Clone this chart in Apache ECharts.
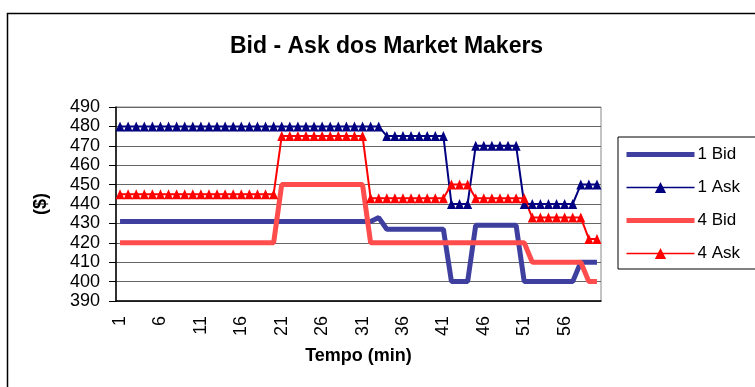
<!DOCTYPE html>
<html>
<head>
<meta charset="utf-8">
<script src="https://cdn.jsdelivr.net/npm/echarts@6/dist/echarts.min.js"></script>
<style>
  html, body { margin: 0; padding: 0; background: #fff; }
  #chart { width: 755px; height: 387px; }
</style>
</head>
<body>
<div id="chart"></div>
<script>
// minutes on the x axis
const minutes = [
  1, 2, 3, 4, 5, 6, 7, 8, 9, 10,
  11, 12, 13, 14, 15, 16, 17, 18, 19, 20,
  21, 22, 23, 24, 25, 26, 27, 28, 29, 30,
  31, 32, 33, 34, 35, 36, 37, 38, 39, 40,
  41, 42, 43, 44, 45, 46, 47, 48, 49, 50,
  51, 52, 53, 54, 55, 56, 57, 58, 59, 60
];

const bid1 = [
  431, 431, 431, 431, 431, 431, 431, 431, 431, 431,
  431, 431, 431, 431, 431, 431, 431, 431, 431, 431,
  431, 431, 431, 431, 431, 431, 431, 431, 431, 431,
  431, 431, 433, 427, 427, 427, 427, 427, 427, 427,
  427, 400, 400, 400, 429, 429, 429, 429, 429, 429,
  400, 400, 400, 400, 400, 400, 400, 410, 410, 410
];

const ask1 = [
  480, 480, 480, 480, 480, 480, 480, 480, 480, 480,
  480, 480, 480, 480, 480, 480, 480, 480, 480, 480,
  480, 480, 480, 480, 480, 480, 480, 480, 480, 480,
  480, 480, 480, 475, 475, 475, 475, 475, 475, 475,
  475, 440, 440, 440, 470, 470, 470, 470, 470, 470,
  440, 440, 440, 440, 440, 440, 440, 450, 450, 450
];

const bid4 = [
  420, 420, 420, 420, 420, 420, 420, 420, 420, 420,
  420, 420, 420, 420, 420, 420, 420, 420, 420, 420,
  450, 450, 450, 450, 450, 450, 450, 450, 450, 450,
  450, 420, 420, 420, 420, 420, 420, 420, 420, 420,
  420, 420, 420, 420, 420, 420, 420, 420, 420, 420,
  420, 410, 410, 410, 410, 410, 410, 410, 400, 400
];

const ask4 = [
  445, 445, 445, 445, 445, 445, 445, 445, 445, 445,
  445, 445, 445, 445, 445, 445, 445, 445, 445, 445,
  475, 475, 475, 475, 475, 475, 475, 475, 475, 475,
  475, 443, 443, 443, 443, 443, 443, 443, 443, 443,
  443, 450, 450, 450, 443, 443, 443, 443, 443, 443,
  443, 433, 433, 433, 433, 433, 433, 433, 422, 422
];

const font = 'Liberation Sans, Arial, sans-serif';
const chart = echarts.init(document.getElementById('chart'));

chart.setOption({
  animation: false,
  textStyle: { fontFamily: font, color: '#000' },
  title: {
    text: 'Bid - Ask dos Market Makers',
    left: 225,
    top: 30,
    textStyle: { fontSize: 23, fontWeight: 'bold', color: '#000', fontFamily: font }
  },
  // outer frame of the excel chart
  graphic: [{
    type: 'rect',
    shape: { x: 7.5, y: 13.5, width: 800, height: 420 },
    style: { fill: 'none', stroke: '#000', lineWidth: 1.5 },
    silent: true
  }],
  legend: {
    orient: 'vertical',
    left: 618,
    top: 137,
    padding: [9, 20, 7, 6],
    itemWidth: 68,
    itemHeight: 14,
    itemGap: 16,
    borderColor: '#000',
    borderWidth: 1,
    backgroundColor: '#fff',
    textStyle: { fontSize: 17, color: '#000', fontFamily: font, padding: [0, 0, 0, -2] },
    data: [
      { name: '1 Bid', lineStyle: { width: 5 }, itemStyle: { opacity: 0 } },
      { name: '1 Ask', lineStyle: { width: 1.5 } },
      { name: '4 Bid', lineStyle: { width: 5 }, itemStyle: { opacity: 0 } },
      { name: '4 Ask', lineStyle: { width: 1.5 } }
    ]
  },
  grid: {
    left: 116,
    right: 154,
    top: 107,
    bottom: 86,
    show: true,
    borderColor: '#888',
    borderWidth: 1
  },
  xAxis: {
    type: 'category',
    data: minutes,
    boundaryGap: true,
    name: 'Tempo (min)',
    nameLocation: 'middle',
    nameGap: 46,
    nameTextStyle: { fontSize: 18, fontWeight: 'bold', color: '#000', fontFamily: font },
    axisLine: { lineStyle: { color: '#000', width: 1.5 } },
    axisTick: { interval: 0, length: 6, lineStyle: { color: '#000' } },
    axisLabel: { interval: 4, rotate: 90, fontSize: 18, margin: 15, color: '#000', fontFamily: font },
    splitLine: { show: false }
  },
  yAxis: {
    type: 'value',
    min: 390,
    max: 490,
    interval: 10,
    name: '($)',
    nameLocation: 'middle',
    nameRotate: 90,
    nameGap: 66,
    nameTextStyle: { fontSize: 18, fontWeight: 'bold', color: '#000', fontFamily: font },
    axisLine: { show: true, lineStyle: { color: '#000', width: 1.5 } },
    axisTick: { show: true, length: 7, lineStyle: { color: '#000' } },
    axisLabel: { fontSize: 18, margin: 16, color: '#000', fontFamily: font },
    splitLine: { lineStyle: { color: '#666', width: 1 } }
  },
  series: [
    {
      name: '1 Bid',
      type: 'line',
      data: bid1,
      symbol: 'none',
      lineStyle: { color: '#3f3fa0', width: 5 },
      itemStyle: { color: '#3f3fa0' }
    },
    {
      name: '1 Ask',
      type: 'line',
      data: ask1,
      symbol: 'triangle',
      symbolSize: [9, 10],
      showAllSymbol: true,
      lineStyle: { color: '#000080', width: 2 },
      itemStyle: { color: '#000080' }
    },
    {
      name: '4 Bid',
      type: 'line',
      data: bid4,
      symbol: 'none',
      lineStyle: { color: '#ff4d4d', width: 5 },
      itemStyle: { color: '#ff4d4d' }
    },
    {
      name: '4 Ask',
      type: 'line',
      data: ask4,
      symbol: 'triangle',
      symbolSize: [9, 10],
      showAllSymbol: true,
      lineStyle: { color: '#ff0000', width: 2 },
      itemStyle: { color: '#ff0000' }
    }
  ]
});
</script>
</body>
</html>
